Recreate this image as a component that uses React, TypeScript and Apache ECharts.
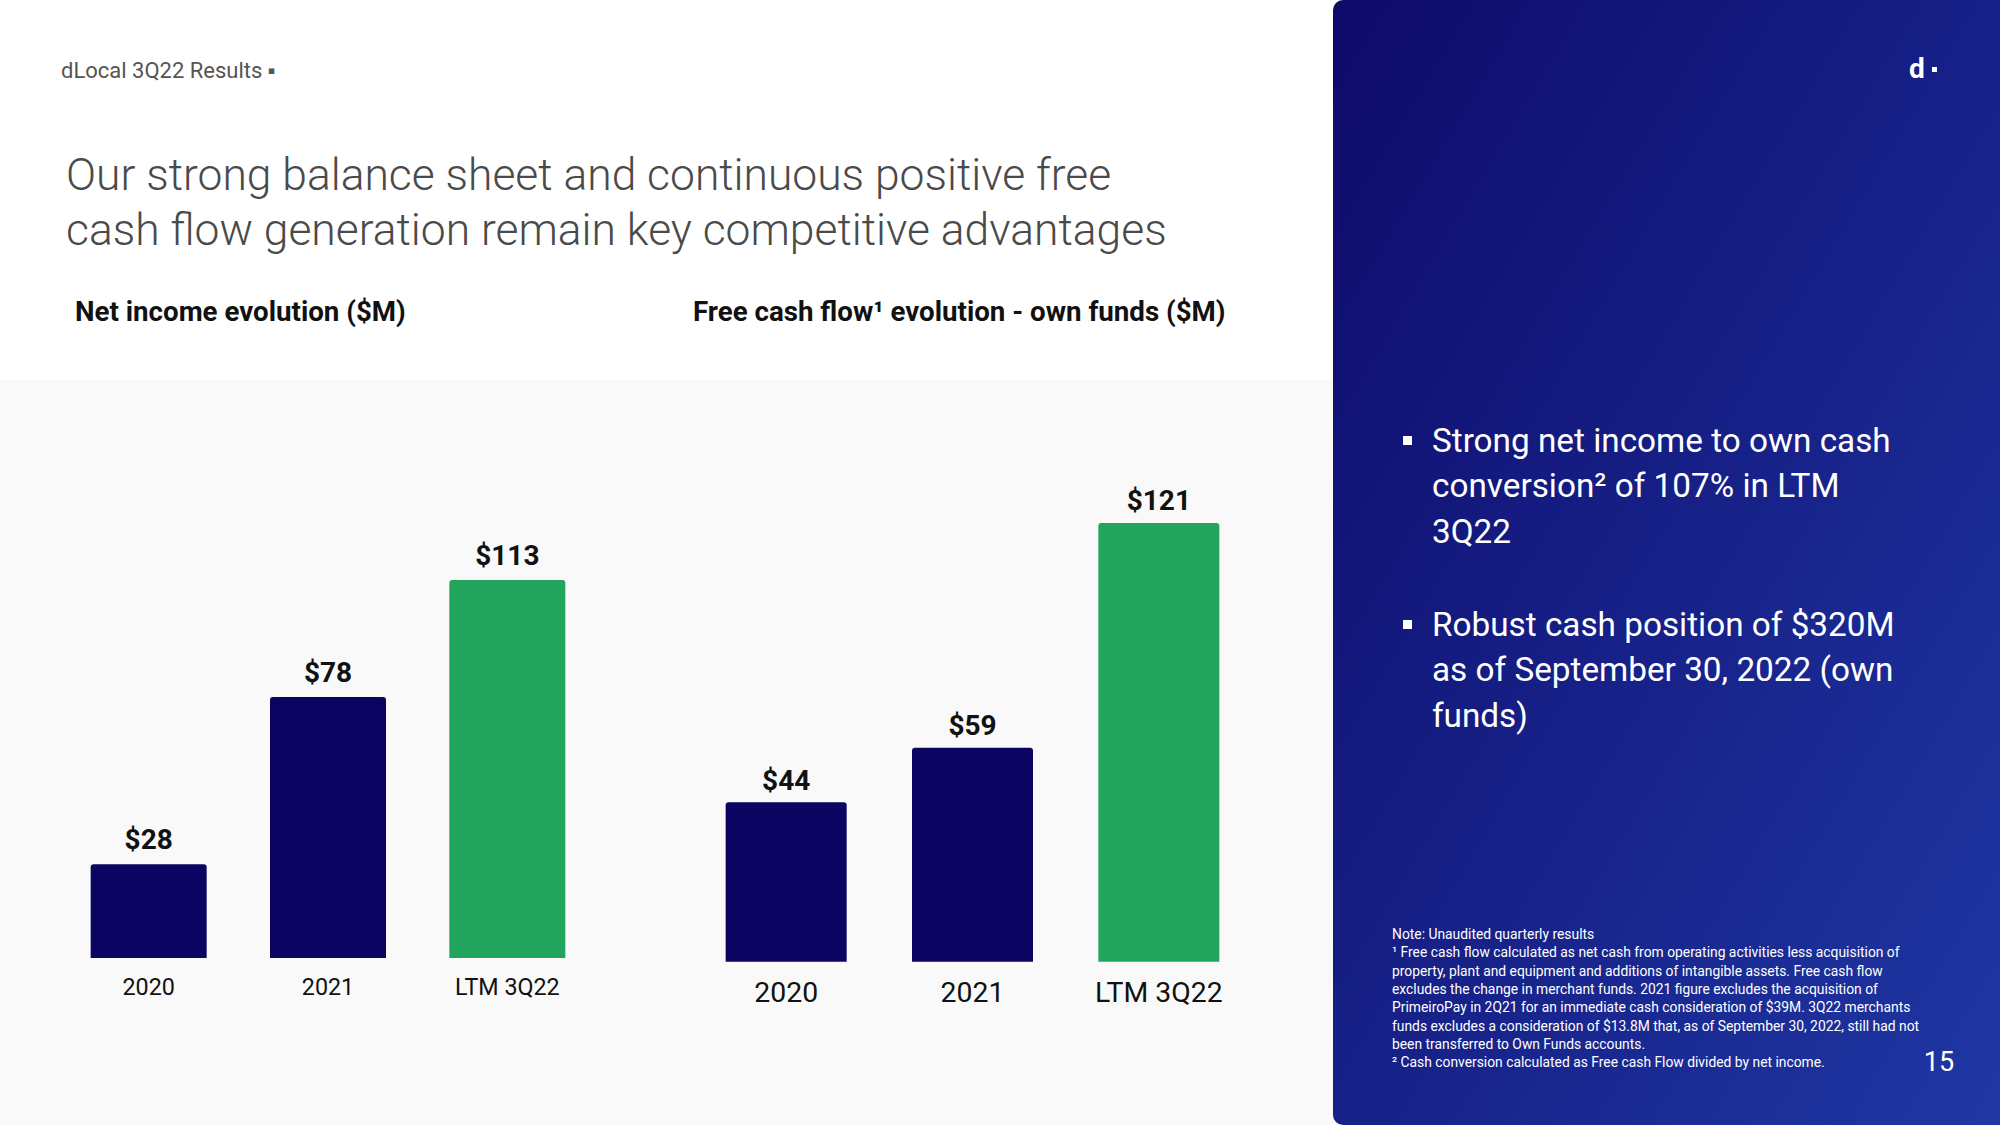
import React, { useEffect, useRef } from "react";
import * as echarts from "echarts";

const netIncomeCategories = ["2020", "2021", "LTM 3Q22"];
const netIncomeValues = [28, 78, 113];
const fcfCategories = ["2020", "2021", "LTM 3Q22"];
const fcfValues = [44, 59, 121];

const headerText = "dLocal 3Q22 Results ▪";
const headingLines = [
  "Our strong balance sheet and continuous positive free",
  "cash flow generation remain key competitive advantages",
];
const leftTitle = "Net income evolution ($M)";
const rightTitle = "Free cash flow¹ evolution - own funds ($M)";
const bullet1 = ["Strong net income to own cash", "conversion² of 107% in LTM", "3Q22"];
const bullet2 = ["Robust cash position of $320M", "as of September 30, 2022 (own", "funds)"];
const noteLines = [
  "Note: Unaudited quarterly results",
  "¹ Free cash flow calculated as net cash from operating activities less acquisition of",
  "property, plant and equipment and additions of intangible assets. Free cash flow",
  "excludes the change in merchant funds. 2021 figure excludes the acquisition of",
  "PrimeiroPay in 2Q21 for an immediate cash consideration of $39M. 3Q22 merchants",
  "funds excludes a consideration of $13.8M that, as of September 30, 2022, still had not",
  "been transferred to Own Funds accounts.",
  "² Cash conversion calculated as Free cash Flow divided by net income.",
];

const NAVY = "#0c0461";
const GREEN = "#22a45d";
const FONT = "Roboto, 'Noto Sans', sans-serif";

function App() {
  const ref = useRef<HTMLDivElement>(null);

  useEffect(() => {
    if (!ref.current) return;
    const chart = echarts.init(ref.current, undefined, { renderer: "svg" });

    const mkData = (vals: number[]) =>
      vals.map((v, i) => ({
        value: v,
        itemStyle: { color: i === vals.length - 1 ? GREEN : NAVY },
      }));

    const txt = (text: string, x: number, y: number, size: number, fill: string, weight: any = "normal", align = "left") => ({
      type: "text",
      x,
      y,
      z: 10,
      style: {
        text,
        fontSize: size,
        fontFamily: FONT,
        fontWeight: weight,
        fill,
        align,
        verticalAlign: "middle",
      },
    });

    const graphics: any[] = [
      { type: "rect", z: -5, shape: { x: 0, y: 0, width: 1333, height: 1125 }, style: { fill: "#ffffff" } },
      { type: "rect", z: -4, shape: { x: 0, y: 380, width: 1333, height: 745 }, style: { fill: "#f9f9f9" } },
      {
        type: "rect",
        z: -4,
        shape: { x: 1333, y: 0, width: 667, height: 1125, r: [10, 0, 0, 10] },
        style: {
          fill: {
            type: "linear",
            x: 0,
            y: 0,
            x2: 1,
            y2: 1,
            colorStops: [
              { offset: 0, color: "#0e0a6a" },
              { offset: 1, color: "#1f37a4" },
            ],
          },
        },
      },
      txt(headerText, 61, 70, 22, "#555555"),
      txt(headingLines[0], 66, 175, 44.4, "#4a4a4a", 300),
      txt(headingLines[1], 66, 230, 44.4, "#4a4a4a", 300),
      txt(leftTitle, 75, 311, 27.7, "#111111", "bold"),
      txt(rightTitle, 693, 311, 27.7, "#111111", "bold"),
      txt("d", 1909, 68, 28, "#ffffff", "bold"),
      { type: "rect", z: 10, shape: { x: 1932, y: 67, width: 5, height: 5 }, style: { fill: "#ffffff" } },
      { type: "rect", z: 10, shape: { x: 1403, y: 436, width: 9, height: 9 }, style: { fill: "#ffffff" } },
      { type: "rect", z: 10, shape: { x: 1403, y: 620, width: 9, height: 9 }, style: { fill: "#ffffff" } },
      txt("15", 1939, 1062, 27, "#ffffff", "normal", "center"),
    ];
    bullet1.forEach((l, i) => graphics.push(txt(l, 1432, 440 + i * 45.5, 33.3, "#ffffff")));
    bullet2.forEach((l, i) => graphics.push(txt(l, 1432, 624 + i * 45.5, 33.3, "#ffffff")));
    noteLines.forEach((l, i) => graphics.push(txt(l, 1392, 934 + i * 18.3, 13.85, "#ffffff")));

    const catAxis = (gridIndex: number, data: string[], size: number, margin: number) => ({
      type: "category",
      gridIndex,
      data,
      axisLine: { show: false },
      axisTick: { show: false },
      axisLabel: { fontSize: size, fontFamily: FONT, color: "#111111", margin },
    });
    const valAxis = (gridIndex: number, max: number) => ({
      type: "value",
      gridIndex,
      min: 0,
      max,
      show: false,
      splitLine: { show: false },
    });

    chart.setOption({
      animation: false,
      graphic: graphics,
      grid: [
        { left: 59, width: 538, top: 556.6, height: 401.4 },
        { left: 693, width: 559, top: 490.3, height: 471.4 },
      ],
      xAxis: [catAxis(0, netIncomeCategories, 23.3, 17), catAxis(1, fcfCategories, 28.4, 17)],
      yAxis: [valAxis(0, 120), valAxis(1, 130)],
      series: [
        {
          type: "bar",
          xAxisIndex: 0,
          yAxisIndex: 0,
          barWidth: 116,
          data: mkData(netIncomeValues),
          itemStyle: { borderRadius: [3, 3, 0, 0] },
          label: {
            show: true,
            position: "top",
            distance: 11,
            formatter: "${c}",
            fontSize: 28,
            fontWeight: "bold",
            fontFamily: FONT,
            color: "#111111",
          },
        },
        {
          type: "bar",
          xAxisIndex: 1,
          yAxisIndex: 1,
          barWidth: 121,
          data: mkData(fcfValues),
          itemStyle: { borderRadius: [3, 3, 0, 0] },
          label: {
            show: true,
            position: "top",
            distance: 8,
            formatter: "${c}",
            fontSize: 28,
            fontWeight: "bold",
            fontFamily: FONT,
            color: "#111111",
          },
        },
      ],
    });

    return () => chart.dispose();
  }, []);

  return (
    <div
      ref={ref}
      style={{ position: "fixed", left: 0, top: 0, width: 2000, height: 1125, background: "#ffffff" }}
    />
  );
}

export default App;
